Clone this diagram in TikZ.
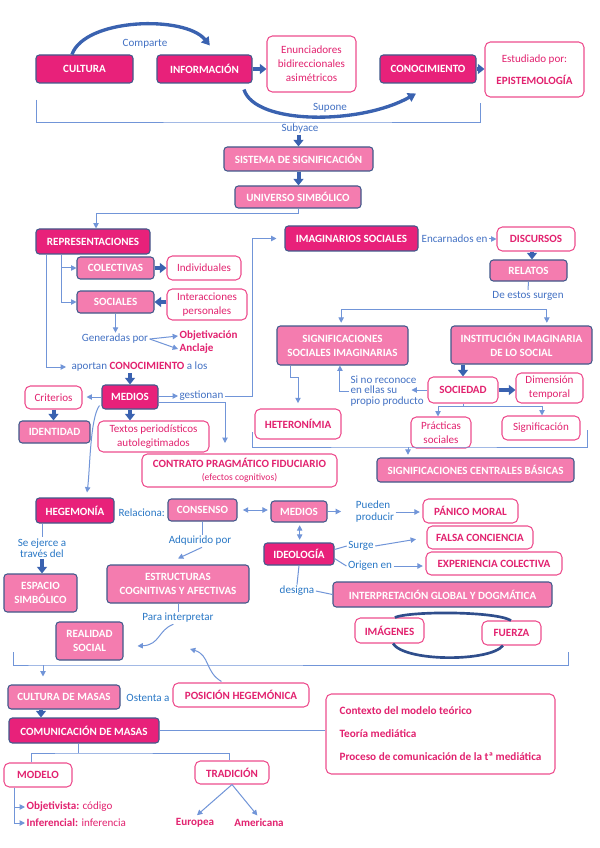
\documentclass[tikz,border=0pt]{standalone}
\usepackage{fontspec}
\setmainfont{Carlito}
\usetikzlibrary{arrows.meta,calc}
\definecolor{dpink}{HTML}{E8217A}
\definecolor{mpink}{HTML}{F47CAF}
\definecolor{bord}{HTML}{41598B}
\definecolor{pbord}{HTML}{EE4E8E}
\definecolor{ptext}{HTML}{E2226F}
\definecolor{lblue}{HTML}{4472C4}
\definecolor{bblue}{HTML}{2A78C6}
\definecolor{ablue}{HTML}{3A62B0}
\definecolor{cblue}{HTML}{2F4E8C}
\definecolor{lnblue}{HTML}{7195D8}
\newcommand{\fs}{\fontsize{8.3}{10.5}\selectfont}
\tikzset{
 rect/.style n args={4}{at={({(#1+#3)/2},{(#2+#4)/2})}, minimum width={(#3-#1)*0.75pt}, minimum height={(#4-#2)*0.75pt}},
 base/.style={inner sep=0pt, align=center, font=\fs, line width=0.8pt},
 dbox/.style={base, fill=dpink, draw=bord, rounded corners=2.5pt, text=white, font=\fs\bfseries},
 mbox/.style={base, fill=mpink, draw=bord, rounded corners=2.5pt, text=white, font=\fs\bfseries},
 wbox/.style={base, fill=white, draw=pbord, rounded corners=4pt, text=ptext},
 wboxb/.style={wbox, font=\fs\bfseries},
 lab/.style={inner sep=1pt, text=lblue, font=\fs},
 labb/.style={lab, text=bblue},
 ptx/.style={inner sep=1pt, text=ptext, font=\fs},
 ln/.style={draw=lnblue, line width=0.75pt},
 arr/.style={ln, -{Triangle[length=4pt,width=4pt]}},
 arrd/.style={ln, {Triangle[length=4pt,width=4pt]}-{Triangle[length=4pt,width=4pt]}},
 fat/.style={draw=ablue, line width=3pt, -{Triangle[length=5pt,width=7.5pt]}},
 fatc/.style={draw=ablue, line width=2.5pt, -{Triangle[length=6pt,width=7pt]}},
 cyc/.style={draw=cblue, line width=2pt},
}
\begin{document}
\begin{tikzpicture}[x=0.75pt,y=-0.75pt]
\fill[white] (0,0) rectangle (599,848);
\useasboundingbox (0,0) rectangle (599,848);

% ---------- top row
\node[dbox, rect={36}{55}{133}{83}] (cultura) {CULTURA};
\node[dbox, rect={157}{55}{252}{83}] (info) {INFORMACIÓN};
\node[wbox, rect={267}{36}{356}{92}] (enun) {Enunciadores\\bidireccionales\\asimétricos};
\node[dbox, rect={380}{55}{476}{83}] (conoc) {CONOCIMIENTO};
\node[wbox, rect={485}{42}{584}{97}] (estud) {Estudiado por:\\[6pt]\textbf{EPISTEMOLOGÍA}};
\node[lab] (comp) at (145,44) {Comparte};
\node[lab] (sup) at (330,108) {Supone};
\node[lab] (subyace) at (300,129) {Subyace};

\draw[fatc] ([xshift=-9.4pt]cultura.north) .. controls (85,18) and (185,15) .. ([xshift=4pt,yshift=6.75pt]info.north);
\draw[fatc] ([xshift=29.6pt,yshift=-4.5pt]info.south) .. controls (255,125) and (360,125) .. ([xshift=-9pt,yshift=-7.5pt]conoc.south);
\draw[fat] (info.east) -- (info.east -| enun.west);
\draw[fat] (conoc.east) -- (conoc.east -| estud.west);

\coordinate (b1) at (36,100);
\coordinate (bm) at (298,123);
\coordinate (b2) at (480,103);
\draw[ln] (b1) |- (bm) -| (b2);

% ---------- centre column
\node[mbox, rect={224}{147}{373}{171}] (sistema) {SISTEMA DE SIGNIFICACIÓN};
\node[mbox, rect={235}{186}{361}{208}] (univ) {UNIVERSO SIMBÓLICO};
\draw[fat] (subyace.south -| sistema.north) -- (sistema.north);
\draw[fat] (sistema.south) -- (sistema.south |- univ.north);

% ---------- representaciones
\node[dbox, rect={36}{229}{150}{254}] (repr) {REPRESENTACIONES};
\node[mbox, rect={77}{257}{154}{279}] (colec) {COLECTIVAS};
\node[wbox, rect={167}{256}{241}{280}] (indiv) {Individuales};
\node[mbox, rect={77}{291}{154}{313}] (soc) {SOCIALES};
\node[wbox, rect={167}{289}{247}{320}] (inter) {Interacciones\\personales};
\draw[arr] (univ.south) -- ++(0,5) -| ([xshift=2.25pt]repr.north);
\draw[fat] (colec.east) -- (colec.east -| indiv.west);
\draw[fat] (soc.east -| inter.west) -- (soc.east);
\draw[arr] ($(repr.south west)+(26,0)$) |- (colec.west);
\draw[arr] ($(repr.south west)+(26,0)$) |- (soc.west);

\node[lab] (gen) at (115,339) {Generadas por};
\node[ptx, font=\fs\bfseries, anchor=west] (obj) at (178,336) {Objetivación};
\node[ptx, font=\fs\bfseries, anchor=west] (ancl) at (178,349) {Anclaje};
\draw[arr] (soc.south) -- (soc.south |- gen.north);
\draw[arr] (gen.east) -- (obj.west);
\draw[arr] (gen.east) -- (ancl.west);

\node[lab, anchor=west] (aport) at (70,367) {aportan \textcolor{ptext}{\textbf{CONOCIMIENTO}} a los};
\draw[arr, shorten >=3pt] ($(repr.south west)+(11,0)$) |- (aport.west);

% ---------- medios
\node[dbox, rect={102}{385}{158}{409}] (medios) {MEDIOS};
\node[wbox, rect={25}{386}{82}{409}] (crit) {Criterios};
\node[mbox, rect={19}{421}{90}{443}] (ident) {IDENTIDAD};
\node[wbox, rect={98}{421}{209}{452}] (textos) {Textos periodísticos\\autolegitimados};
\node[wbox, rect={142}{454}{337}{487}] (contr) {\textbf{CONTRATO PRAGMÁTICO FIDUCIARIO}\\[-1pt]{\fontsize{7.2}{8}\selectfont(efectos cognitivos)}};
\node[lab, anchor=west] (gest) at (178,396) {gestionan};
\draw[fat] (aport.south -| medios.north) -- (medios.north);
\draw[arr, shorten >=3pt] (medios.west) -- (medios.west -| crit.east);
\draw[fat] (crit.south) -- (crit.south |- ident.north);
\draw[fat] (medios.south) -- (medios.south |- textos.north);
\draw[arr] (medios.east |- gest.west) -- (gest.west);
\coordinate (cq) at (225,443);
\draw[arr] ([yshift=-3.75pt]medios.east) -| (cq);

% ---------- imaginarios
\node[dbox, rect={285}{226}{418}{251}] (imag) {IMAGINARIOS SOCIALES};
\node[lab, anchor=west] (enc) at (420,239) {Encarnados en};
\node[wboxb, rect={497}{227}{575}{251}] (disc) {DISCURSOS};
\node[mbox, rect={490}{260}{567}{281}] (relat) {RELATOS};
\node[lab] (deest) at (528,296) {De estos surgen};
\draw[arr, shorten >=6pt] (gest.east) -| ($(imag.west)+(-32,0)$) -- (imag.west);
\draw[arr] (enc.east) -- (enc.east -| disc.west);
\draw[fat] ([xshift=-3pt]disc.south) -- ([xshift=-3pt]disc.south |- relat.north);
\draw[ln] (relat.south) -- (deest.north);

\node[mbox, rect={277}{326}{408}{365}] (signif) {SIGNIFICACIONES\\SOCIALES IMAGINARIAS};
\node[mbox, rect={451}{326}{592}{364}] (inst) {INSTITUCIÓN IMAGINARIA\\DE LO SOCIAL};
\coordinate (sj) at (444,309);
\draw[arr, shorten >=2pt] (sj) -| ([xshift=-1pt]signif.north);
\draw[arr, shorten >=2pt] (sj) -| ([xshift=19pt]inst.north);

\node[wboxb, rect={428}{377}{498}{403}] (soc2) {SOCIEDAD};
\node[wbox, rect={516}{373}{583}{403}] (dim) {Dimensión\\temporal};
\node[lab, align=left, anchor=west, font=\fontsize{8.3}{7.6}\selectfont] (sino) at (349,391) {Si no reconoce\\en ellas su\\propio producto};
\draw[fat] (inst.south -| soc2.north) -- (soc2.north);
\draw[fat] (soc2.east) -- (soc2.east -| dim.west);
\draw[arr] (soc2.west) -- ($(soc2.west)+(-16,0)$);
\draw[arr] (sino.west) -| ([xshift=-1.9pt]signif.south);

\node[wboxb, rect={255}{409}{341}{439}] (hetero) {HETERONÍMIA};
\draw[arr, shorten >=4pt] ($(signif.south west)+(14,0)$) |- ($(hetero.north)+(0,-31)$) -- (hetero.north);

\node[wbox, rect={411}{417}{471}{448}] (pract) {Prácticas\\sociales};
\node[wbox, rect={502}{416}{580}{440}] (signific) {Significación};
\coordinate (sj2) at (463,406);
\draw[ln] (soc2.south) -- (sj2);
\draw[arr] (sj2) -| ([xshift=-2.25pt]pract.north);
\draw[arr] (sj2) -| ([xshift=0.75pt]signific.north);

\node[mbox, rect={377}{458}{574}{482}] (scb) {SIGNIFICACIONES CENTRALES BÁSICAS};
\coordinate (d1) at (252,432);
\coordinate (dm) at (408,447);
\coordinate (d2) at (587,430);
\draw[ln] (d1) |- (dm) -| (d2);
\draw[arr, shorten >=2pt] (dm) -- (dm |- scb.north);

% ---------- hegemonia
\node[dbox, rect={36}{498}{114}{523}] (heg) {HEGEMONÍA};
\draw[arr] ([xshift=-1.5pt,yshift=3pt]medios.south west) .. controls (90,418) and (90,470) .. ($(heg.north)+(12,-5)$);
\node[labb, anchor=west] (rel) at (117,513) {Relaciona:};
\node[mbox, rect={168}{499}{237}{521}] (cons) {CONSENSO};
\node[mbox, rect={271}{501}{327}{522}] (med2) {MEDIOS};
\draw[arrd, shorten <=4pt, shorten >=2pt] (cons.east) -- (cons.east -| med2.west);
\node[labb, align=left, font=\fontsize{8.3}{9}\selectfont] (pued) at (375,512) {Pueden\\producir};
\node[wboxb, rect={423}{499}{518}{523}] (panico) {PÁNICO MORAL};
\draw[arr, shorten >=10pt] (med2.east) -- (med2.east -| pued.west);
\draw[arr, shorten >=2pt] (pued.east) -- (pued.east -| panico.west);

\node[dbox, rect={264}{543}{334}{565}] (ideo) {IDEOLOGÍA};
\draw[arrd, shorten <=2pt, shorten >=2pt] ([xshift=0.5pt]med2.south) -- ([xshift=0.5pt]med2.south |- ideo.north);
\node[labb] (surge) at (361,546) {Surge};
\node[wboxb, rect={427}{526}{533}{549}] (falsa) {FALSA CONCIENCIA};
\node[labb] (orig) at (370,566) {Origen en};
\node[wboxb, rect={426}{552}{562}{575}] (exper) {EXPERIENCIA COLECTIVA};
\draw[ln] ([yshift=-5.25pt]ideo.north east) -- (surge.west);
\draw[arr, shorten >=8pt] (surge.east) -- (falsa.west);
\draw[ln] ([yshift=5.25pt]ideo.south east) -- (orig.west);
\draw[arr, shorten >=2pt] (orig.east) -- (orig.east -| exper.west);

\node[labb] (desig) at (297,591) {designa};
\node[mbox, rect={333}{582}{552}{607}] (interp) {INTERPRETACIÓN GLOBAL Y DOGMÁTICA};
\draw[ln] (ideo.south) -- (desig.north);
\draw[ln] (desig.east) -- (interp.west);

\node[wboxb, rect={355}{618}{424}{643}] (imgs) {IMÁGENES};
\node[wboxb, rect={482}{621}{541}{645}] (fuerza) {FUERZA};
\draw[cyc] ([xshift=4pt]imgs.north) .. controls (410,611) and (495,611) .. ([xshift=-0.4pt]fuerza.north);
\draw[cyc] ([xshift=2.6pt]imgs.south) .. controls (405,662) and (490,662) .. ([xshift=-6.4pt]fuerza.south);

% ---------- estructuras
\node[labb, align=center, font=\fontsize{8.3}{8}\selectfont] (seej) at (42,548) {Se ejerce a\\través del};
\node[mbox, rect={4}{574}{77}{612}] (esp) {ESPACIO\\SIMBÓLICO};
\draw[ln] (seej.north |- heg.south) -- (seej.north);
\draw[fat] (seej.south) -- (seej.south |- esp.north);

\node[labb] (adq) at (200,541) {Adquirido por};
\node[mbox, rect={107}{565}{249}{603}] (estr) {ESTRUCTURAS\\COGNITIVAS Y AFECTIVAS};
\draw[ln] (cons.south) -- (cons.south |- adq.north);
\draw[arr] ([xshift=1.5pt]adq.south) -- ([yshift=4.5pt]estr.north);

\node[labb] (para) at (178,618) {Para interpretar};
\node[mbox, rect={56}{622}{123}{660}] (realidad) {REALIDAD\\SOCIAL};
\draw[ln] (estr.south) -- (estr.south |- para.north);
\draw[arr] ([xshift=-3.5pt]para.south) .. controls (158,630) and (160,645) .. ($(realidad.east)+(14,5)$);

% ---------- bottom bracket
\coordinate (c1) at (13,652);
\coordinate (cm) at (43,665);
\coordinate (c2) at (568,652);
\draw[ln] (c1) |- (cm) -| (c2);

\node[mbox, rect={8}{685}{120}{709}] (cmasas) {CULTURA DE MASAS};
\node[labb] (ost) at (148,698) {Ostenta a};
\node[wboxb, rect={173}{683}{309}{707}] (posic) {POSICIÓN HEGEMÓNICA};
\coordinate (pz) at (190,649);
\draw[arr] ($(posic.north west)+(49,-1)$) .. controls (205,672) and (210,655) .. (pz);
\draw[arr, shorten >=6pt] (cm) -- (cm |- cmasas.north);

\node[dbox, rect={9}{718}{159}{743}] (comun) {COMUNICACIÓN DE MASAS};
\draw[fat] ([xshift=-17.25pt]cmasas.south) -- ([xshift=-17.25pt]cmasas.south |- comun.north);

\node[wbox, rect={326}{694}{555}{774}, align=left, font=\fontsize{8.4}{17.25}\selectfont\bfseries] (ctx) {Contexto del modelo teórico\\Teoría mediática\\Proceso de comunicación de la tª mediática};
\draw[ln] (comun.east) -- (comun.east -| ctx.west);

\node[wboxb, rect={4}{763}{72}{787}] (modelo) {MODELO};
\node[wboxb, rect={195}{761}{269}{784}] (trad) {TRADICIÓN};
\coordinate (tj) at (78,753);
\draw[ln] ([xshift=-4.5pt]comun.south) -- (tj);
\draw[ln] ([xshift=-5pt]modelo.north) |- (tj) -| ([xshift=-2pt]trad.north);

\node[ptx, anchor=west] (objt) at (25,807) {\textbf{Objetivista:} código};
\node[ptx, anchor=west] (infer) at (25,823) {\textbf{Inferencial:} inferencia};
\draw[arr] ($(modelo.south west)+(11,0)$) |- (objt.west);
\draw[arr] ($(modelo.south west)+(11,0)$) |- (infer.west);

\node[ptx, font=\fs\bfseries] (eur) at (195,823) {Europea};
\node[ptx, font=\fs\bfseries] (amer) at (259,823) {Americana};
\draw[arr, shorten >=2pt] (trad.south) -- (eur.north);
\draw[arr, shorten >=2pt] (trad.south) -- (amer.north);
\end{tikzpicture}
\end{document}
